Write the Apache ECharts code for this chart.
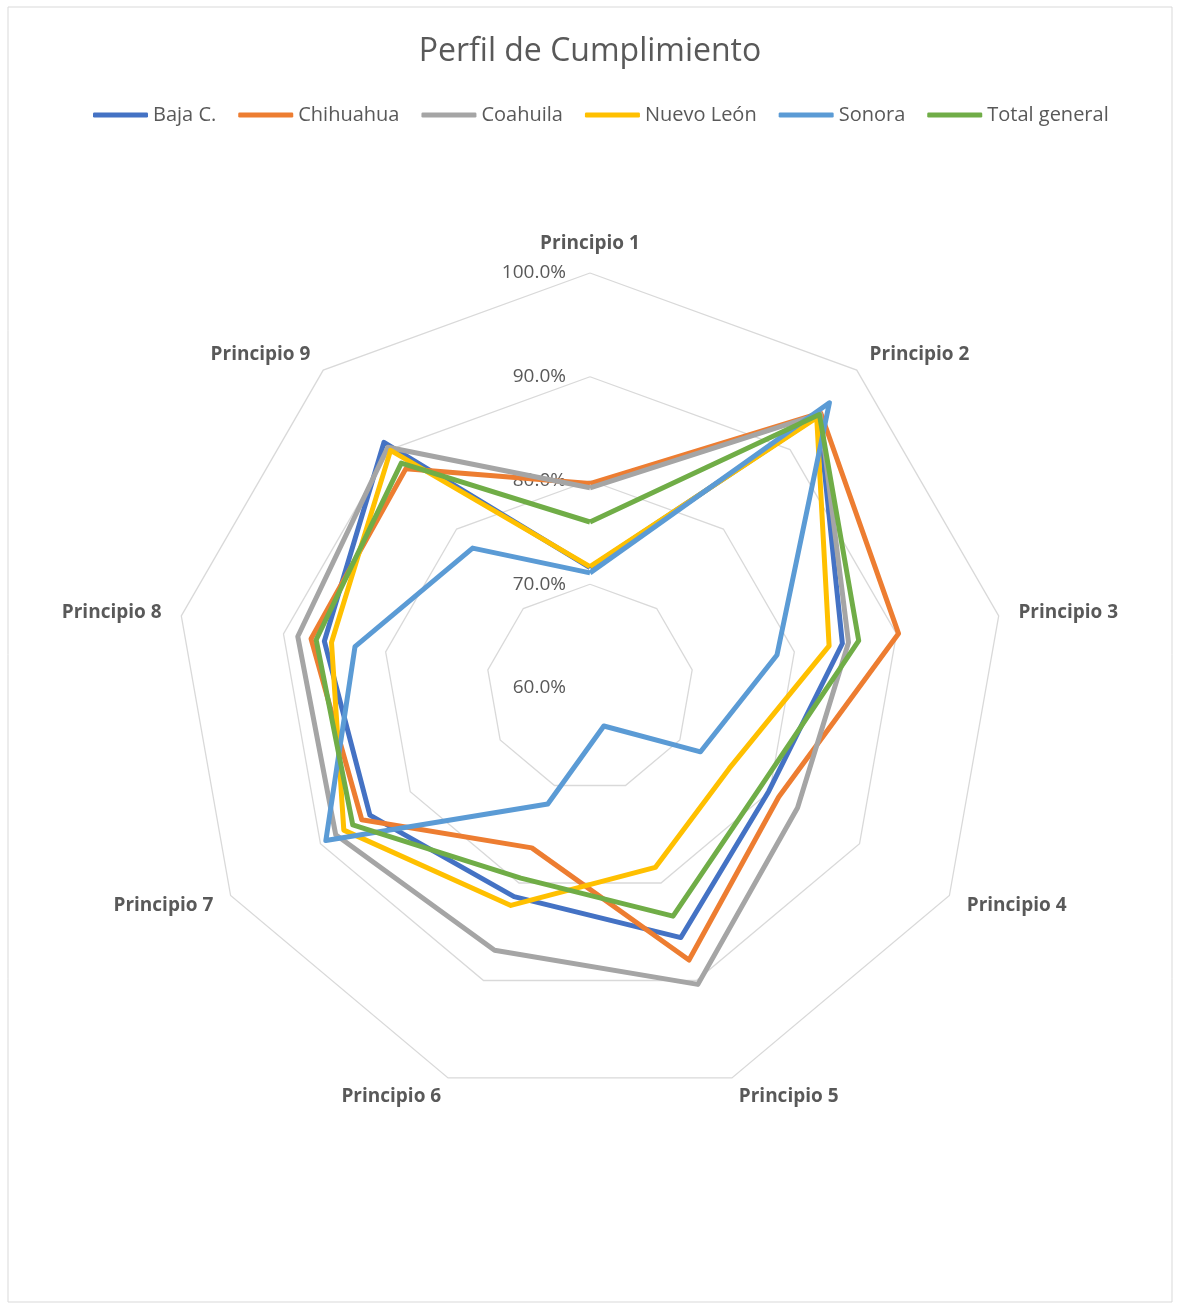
<!DOCTYPE html>
<html>
<head>
<meta charset="utf-8">
<title>Perfil de Cumplimiento</title>
<script src="https://cdn.jsdelivr.net/npm/echarts@6/dist/echarts.min.js"></script>
<style>
  html, body { margin: 0; padding: 0; background: #fff; }
  #main { width: 1180px; height: 1306px; }
</style>
</head>
<body>
<div id="main"></div>
<script>
// ejes del radar (en el orden de la hoja)
var principios = ['Principio 1', 'Principio 2', 'Principio 3', 'Principio 4', 'Principio 5',
  'Principio 6', 'Principio 7', 'Principio 8', 'Principio 9'];

// % de cumplimiento por principio
var bajaC        = [71.6, 94.3, 84.7, 79.9, 85.6, 81.4, 84.5, 86.0, 90.9];
var chihuahua    = [79.7, 94.6, 90.2, 81.0, 87.9, 76.4, 85.4, 87.3, 87.6];
var coahuila     = [79.3, 94.5, 85.3, 83.1, 90.4, 86.9, 88.3, 88.6, 90.3];
var nuevoLeon    = [71.7, 94.0, 83.4, 75.5, 78.4, 82.3, 87.4, 85.3, 89.9];
var sonora       = [71.1, 95.9, 78.3, 72.3, 63.9, 71.9, 89.4, 83.0, 77.6];
var totalGeneral = [76.0, 94.4, 86.3, 79.0, 83.4, 79.5, 86.4, 86.8, 88.3];

// marcas de la escala
var escala = [60, 70, 80, 90, 100];

var estados = ['Baja C.', 'Chihuahua', 'Coahuila', 'Nuevo León', 'Sonora', 'Total general'];
var valores = [bajaC, chihuahua, coahuila, nuevoLeon, sonora, totalGeneral];
var colores = ['#4472C4', '#ED7D31', '#A5A5A5', '#FFC000', '#5B9BD5', '#70AD47'];

// echarts reparte los ejes en sentido antihorario; Excel en sentido horario
var orden = [0, 8, 7, 6, 5, 4, 3, 2, 1];

var fuente = 'Open Sans';
var gris = '#595959';

var indicadores = orden.map(function (i, k) {
  var ind = { name: principios[i], min: escala[0], max: escala[escala.length - 1] };
  if (k === 0) {
    // solo el primer eje lleva las etiquetas de porcentaje
    ind.axisLabel = { show: true };
  }
  return ind;
});

var series = estados.map(function (nombre, s) {
  return {
    type: 'radar',
    name: nombre,
    symbol: 'none',
    lineStyle: { width: 5, color: colores[s] },
    itemStyle: { color: colores[s] },
    emphasis: { disabled: true },
    data: [{ name: nombre, value: orden.map(function (i) { return valores[s][i]; }) }]
  };
});

var option = {
  animation: false,
  backgroundColor: '#fff',
  color: colores,
  title: {
    text: 'Perfil de Cumplimiento',
    left: 'center',
    top: 31,
    textStyle: { fontFamily: fuente, fontSize: 32, fontWeight: 'normal', color: gris }
  },
  legend: {
    data: estados,
    left: 88,
    top: 100,
    itemWidth: 55,
    itemHeight: 5,
    itemGap: 22,
    icon: 'roundRect',
    textStyle: { fontFamily: fuente, fontSize: 20, color: gris }
  },
  graphic: [{
    type: 'rect',
    shape: { x: 8, y: 7, width: 1164, height: 1295 },
    style: { fill: 'none', stroke: '#d9d9d9', lineWidth: 1 },
    silent: true
  }],
  radar: {
    center: [590, 688],
    radius: 415,
    startAngle: 90,
    shape: 'polygon',
    splitNumber: escala.length - 1,
    indicator: indicadores,
    nameGap: 20,
    axisName: { fontFamily: fuente, fontSize: 19, fontWeight: 'bold', color: gris },
    axisLine: { show: false },
    axisTick: { show: false },
    axisLabel: {
      show: false,
      margin: 24,
      fontFamily: fuente,
      fontSize: 19,
      color: gris,
      formatter: function (v) { return v.toFixed(1) + '%'; }
    },
    splitLine: { lineStyle: { color: '#d9d9d9', width: 1.3 } },
    splitArea: { show: false }
  },
  series: series
};

var chart = echarts.init(document.getElementById('main'));
chart.setOption(option);
</script>
</body>
</html>
